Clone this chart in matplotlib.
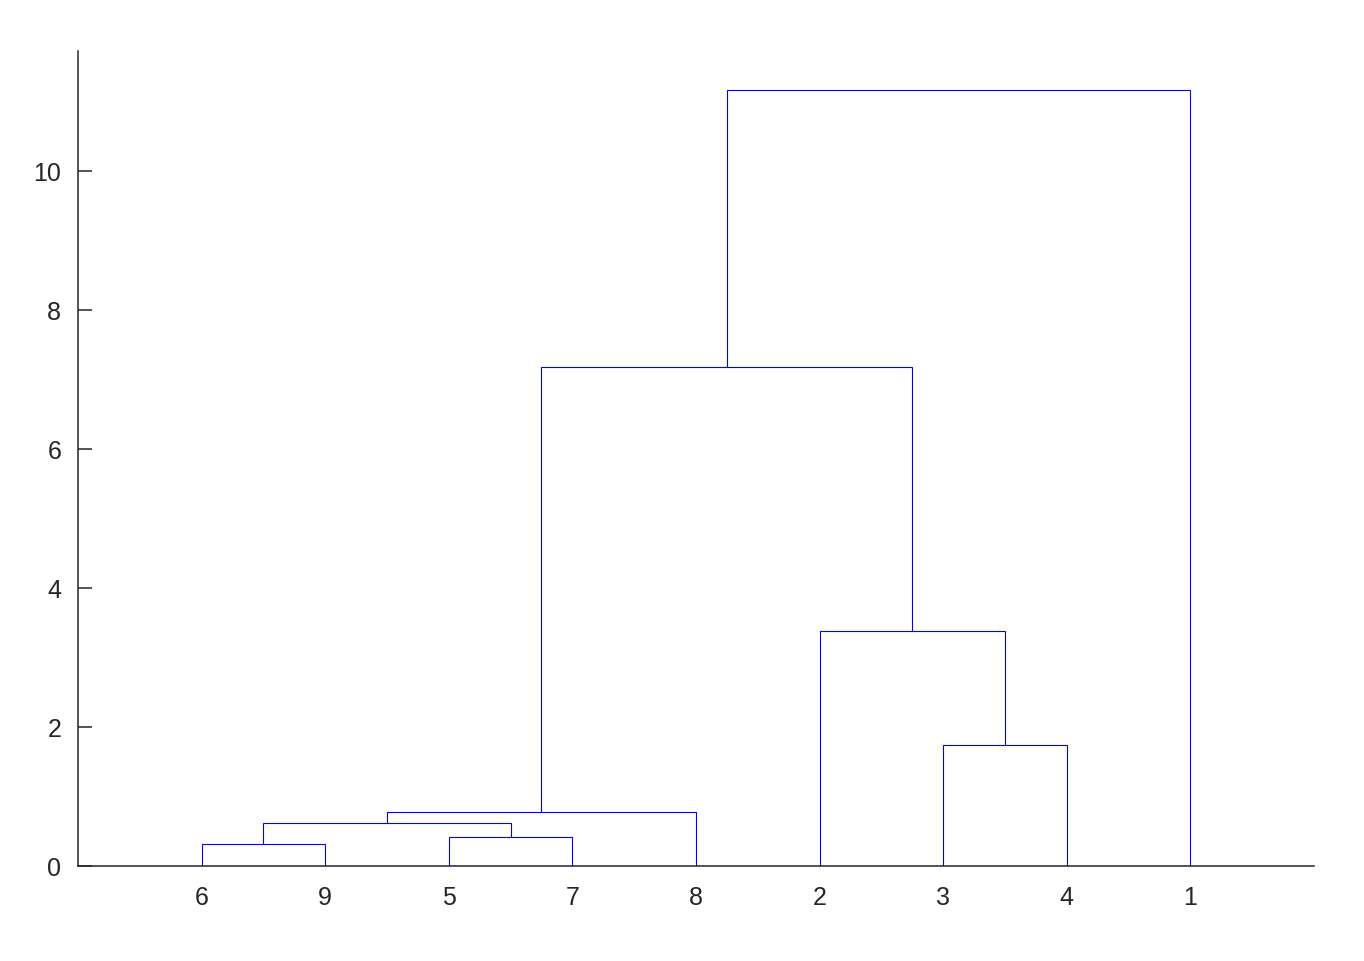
import matplotlib.pyplot as plt

# leaf labels in display order
leaf_order = [6, 9, 5, 7, 8, 2, 3, 4, 1]
# merges: (left cluster, right cluster, height); clusters are leaf labels or previous merge ids 'c0', 'c1', ...
merges = [
    (6, 9, 0.317),
    (5, 7, 0.417),
    ('c0', 'c1', 0.619),
    ('c2', 8, 0.777),
    (3, 4, 1.741),
    (2, 'c4', 3.381),
    ('c3', 'c5', 7.18),
    ('c6', 1, 11.165),
]

plt.rcParams['font.family'] = ['Liberation Sans', 'DejaVu Sans']
fig = plt.figure(figsize=(13.64, 9.62), dpi=100)
ax = fig.add_axes([0.0572, 0.0988, 0.9061, 0.8472])

pos = {lab: i + 1 for i, lab in enumerate(leaf_order)}
hgt = {lab: 0.0 for lab in leaf_order}
for k, (a, b, h) in enumerate(merges):
    xa, xb = pos[a], pos[b]
    ax.plot([xa, xa, xb, xb], [hgt[a], h, h, hgt[b]], color=(0, 0, 1), lw=0.8,
            solid_joinstyle='miter')
    pos['c%d' % k] = (xa + xb) / 2
    hgt['c%d' % k] = h

top = max(m[2] for m in merges)
ax.set_xlim(0, len(leaf_order) + 1)
ax.set_ylim(0, top * 1.05)
ax.set_xticks(range(1, len(leaf_order) + 1))
ax.set_xticklabels([str(l) for l in leaf_order])
ax.set_yticks([0, 2, 4, 6, 8, 10])
ax.spines['top'].set_visible(False)
ax.spines['right'].set_visible(False)
for s in ['left', 'bottom']:
    ax.spines[s].set_color('#262626')
    ax.spines[s].set_linewidth(1.1)
ax.tick_params(axis='y', direction='in', length=10, width=1.1, color='#262626',
               labelsize=18, labelcolor='#262626', pad=12)
ax.tick_params(axis='x', length=0, labelsize=18, labelcolor='#262626', pad=14)

fig.savefig('out.png')
